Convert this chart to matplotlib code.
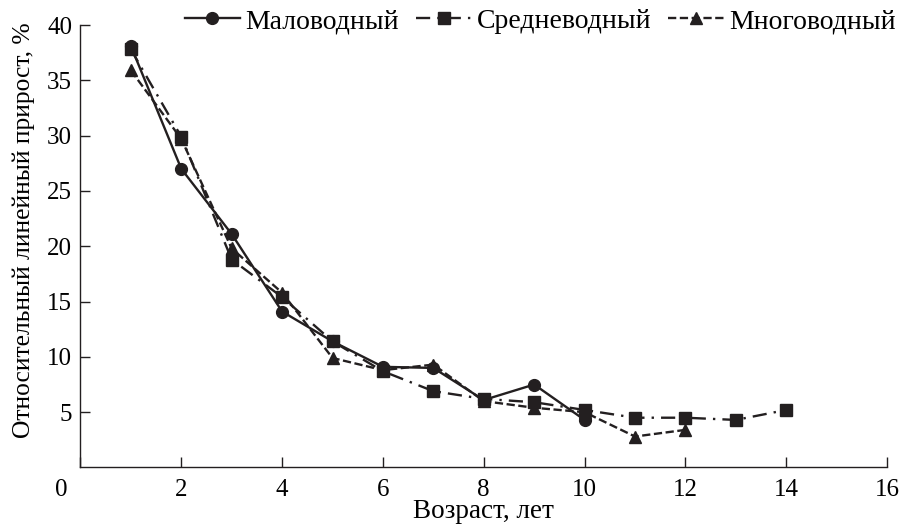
import matplotlib
matplotlib.use("Agg")
import matplotlib.pyplot as plt
from matplotlib.transforms import ScaledTranslation

# age, years
age_low = [1, 2, 3, 4, 5, 6, 7, 8, 9, 10]
age_mid = [1, 2, 3, 4, 5, 6, 7, 8, 9, 10, 11, 12, 13, 14]
age_high = [1, 2, 3, 4, 5, 6, 7, 8, 9, 10, 11, 12]

# relative linear growth, %
low_water = [38.1, 27.0, 21.1, 14.1, 11.4, 9.1, 9.0, 6.1, 7.5, 4.3]
mid_water = [37.8, 29.9, 18.8, 15.4, 11.4, 8.7, 6.9, 6.2, 5.9, 5.2, 4.5, 4.5, 4.3, 5.2]
high_water = [35.9, 29.7, 19.8, 15.8, 9.9, 8.8, 9.3, 6.0, 5.4, 5.0, 2.8, 3.4]

names = ["Маловодный", "Средневодный", "Многоводный"]
x_ticks = [0, 2, 4, 6, 8, 10, 12, 14, 16]
y_ticks = [5, 10, 15, 20, 25, 30, 35, 40]

plt.rcParams["font.family"] = ["Liberation Serif", "DejaVu Serif"]
ink = "#231f20"

fig = plt.figure(figsize=(9.01, 5.31), dpi=100)
ax = fig.add_axes([0.0893, 0.1196, 0.8952, 0.8333])

l1, = ax.plot(age_low, low_water, color=ink, lw=1.7, marker="o", ms=8.5,
              label=names[0])
l2, = ax.plot(age_mid, mid_water, color=ink, lw=1.7, marker="s", ms=8,
              label=names[1], dashes=(6, 3, 1, 3))
l3, = ax.plot(age_high, high_water, color=ink, lw=1.7, marker="^", ms=8.5,
              label=names[2], dashes=(3.5, 1.5))

ax.set_xlim(0, 16)
ax.set_ylim(0, 40)
ax.set_xticks(x_ticks)
ax.set_yticks(y_ticks)
ax.tick_params(direction="in", length=7, width=1, colors=ink, labelsize=18,
               labelcolor="black")
ax.tick_params(axis="x", pad=8)
ax.tick_params(axis="y", pad=6)
for s in ["top", "right"]:
    ax.spines[s].set_visible(False)
for s in ["left", "bottom"]:
    ax.spines[s].set_color(ink)
    ax.spines[s].set_linewidth(1)

# the "0" sits a bit left of the origin in the source
lab0 = ax.get_xticklabels()[0]
lab0.set_transform(lab0.get_transform() + ScaledTranslation(-0.19, 0, fig.dpi_scale_trans))

ax.set_xlabel("Возраст, лет", fontsize=19.5, labelpad=-1)
ax.set_ylabel("Относительный линейный прирост, %", fontsize=18.4, labelpad=9)
ax.yaxis.label.set_y(0.536)

fig.legend(handles=[l1, l2, l3], loc="upper right", bbox_to_anchor=(1.013, 1.015),
           ncol=3, frameon=False, fontsize=20, handlelength=2.0,
           handletextpad=0.2, columnspacing=0.6, borderaxespad=0.2)

fig.savefig("out.png", dpi=100)
